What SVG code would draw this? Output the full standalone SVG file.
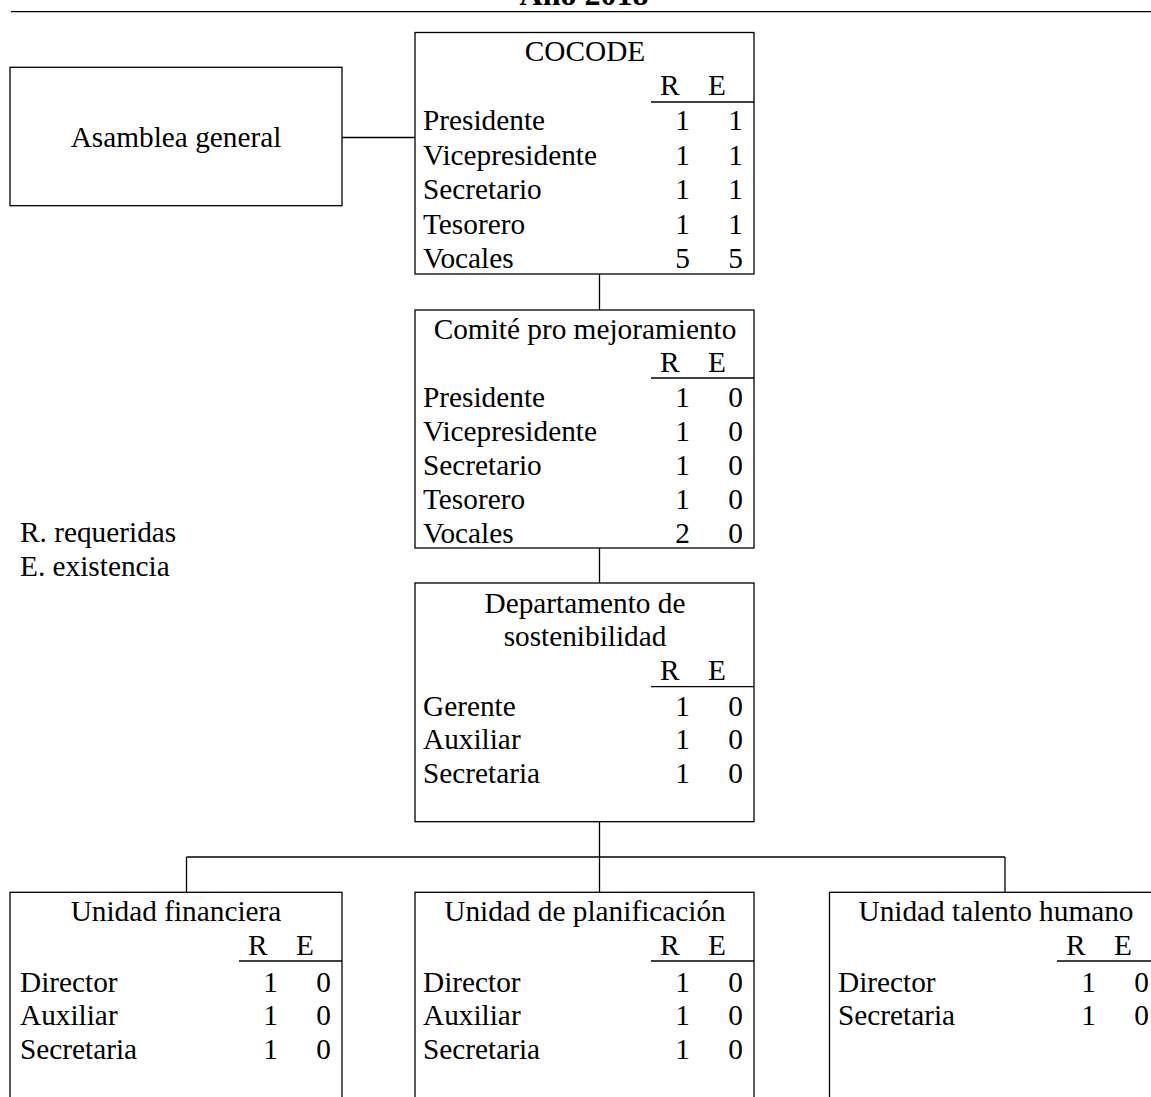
<svg xmlns="http://www.w3.org/2000/svg" width="1151" height="1097" viewBox="0 0 1151 1097">
<style>
.box{fill:none;stroke:#000;stroke-width:1.3}
.ln{fill:none;stroke:#000;stroke-width:1.3}
.t{font-family:"Liberation Serif","Times New Roman",serif;font-size:29.3px;fill:#000}
.c{text-anchor:middle}
.n{text-anchor:end}
.ttl{font-family:"Liberation Serif","Times New Roman",serif;font-size:32px;font-weight:bold;fill:#000;text-anchor:middle}
</style>
<rect x="0" y="0" width="1151" height="1097" fill="#fff"/>
<g id="title">
<text class="ttl" x="584" y="4.5">Año 2018</text>
<line class="ln" x1="11" y1="11.7" x2="1151" y2="11.7"/>
</g>
<g id="connectors">
<line class="ln" x1="342" y1="137.5" x2="415" y2="137.5"/>
<line class="ln" x1="599.5" y1="274" x2="599.5" y2="310"/>
<line class="ln" x1="599.5" y1="548" x2="599.5" y2="583"/>
<line class="ln" x1="599.5" y1="822" x2="599.5" y2="892"/>
<line class="ln" x1="186.5" y1="857" x2="1005" y2="857"/>
<line class="ln" x1="186.5" y1="857" x2="186.5" y2="892"/>
<line class="ln" x1="1005" y1="857" x2="1005" y2="892"/>
</g>
<g id="asamblea">
<rect class="box" x="10" y="67.3" width="332" height="138.4"/>
<text class="t c" x="176" y="147">Asamblea general</text>
</g>
<g id="cocode">
<rect class="box" x="415" y="32.5" width="339" height="241.5"/>
<text class="t c" x="585" y="61">COCODE</text>
<text class="t" x="660" y="95">R</text><text class="t" x="708" y="95">E</text>
<line class="ln" x1="651" y1="102" x2="754" y2="102"/>
<text class="t" x="423" y="130">Presidente</text><text class="t n" x="690" y="130">1</text><text class="t n" x="743" y="130">1</text>
<text class="t" x="423" y="164.5">Vicepresidente</text><text class="t n" x="690" y="164.5">1</text><text class="t n" x="743" y="164.5">1</text>
<text class="t" x="423" y="199">Secretario</text><text class="t n" x="690" y="199">1</text><text class="t n" x="743" y="199">1</text>
<text class="t" x="423" y="233.5">Tesorero</text><text class="t n" x="690" y="233.5">1</text><text class="t n" x="743" y="233.5">1</text>
<text class="t" x="423" y="268">Vocales</text><text class="t n" x="690" y="268">5</text><text class="t n" x="743" y="268">5</text>
</g>
<g id="comite">
<rect class="box" x="415" y="310" width="339" height="238"/>
<text class="t c" x="585" y="338.5">Comité pro mejoramiento</text>
<text class="t" x="660" y="372">R</text><text class="t" x="708" y="372">E</text>
<line class="ln" x1="651" y1="378" x2="754" y2="378"/>
<text class="t" x="423" y="407">Presidente</text><text class="t n" x="690" y="407">1</text><text class="t n" x="743" y="407">0</text>
<text class="t" x="423" y="441">Vicepresidente</text><text class="t n" x="690" y="441">1</text><text class="t n" x="743" y="441">0</text>
<text class="t" x="423" y="475">Secretario</text><text class="t n" x="690" y="475">1</text><text class="t n" x="743" y="475">0</text>
<text class="t" x="423" y="509">Tesorero</text><text class="t n" x="690" y="509">1</text><text class="t n" x="743" y="509">0</text>
<text class="t" x="423" y="543">Vocales</text><text class="t n" x="690" y="543">2</text><text class="t n" x="743" y="543">0</text>
</g>
<g id="legend">
<text class="t" x="20" y="542">R. requeridas</text>
<text class="t" x="20" y="576">E. existencia</text>
</g>
<g id="departamento">
<rect class="box" x="415" y="583" width="339" height="238.7"/>
<text class="t c" x="585" y="613">Departamento de</text>
<text class="t c" x="585" y="646">sostenibilidad</text>
<text class="t" x="660" y="679.5">R</text><text class="t" x="708" y="679.5">E</text>
<line class="ln" x1="651" y1="686.7" x2="754" y2="686.7"/>
<text class="t" x="423" y="715.5">Gerente</text><text class="t n" x="690" y="715.5">1</text><text class="t n" x="743" y="715.5">0</text>
<text class="t" x="423" y="749">Auxiliar</text><text class="t n" x="690" y="749">1</text><text class="t n" x="743" y="749">0</text>
<text class="t" x="423" y="782.5">Secretaria</text><text class="t n" x="690" y="782.5">1</text><text class="t n" x="743" y="782.5">0</text>
</g>
<g id="unidad-financiera">
<rect class="box" x="10" y="892.3" width="332" height="220"/>
<text class="t c" x="176" y="921">Unidad financiera</text>
<text class="t" x="248" y="955">R</text><text class="t" x="296" y="955">E</text>
<line class="ln" x1="239" y1="961" x2="342" y2="961"/>
<text class="t" x="20" y="991.5">Director</text><text class="t n" x="278" y="991.5">1</text><text class="t n" x="331" y="991.5">0</text>
<text class="t" x="20" y="1025">Auxiliar</text><text class="t n" x="278" y="1025">1</text><text class="t n" x="331" y="1025">0</text>
<text class="t" x="20" y="1058.5">Secretaria</text><text class="t n" x="278" y="1058.5">1</text><text class="t n" x="331" y="1058.5">0</text>
</g>
<g id="unidad-planificacion">
<rect class="box" x="415" y="892.3" width="339" height="220"/>
<text class="t c" x="585" y="921">Unidad de planificación</text>
<text class="t" x="660" y="955">R</text><text class="t" x="708" y="955">E</text>
<line class="ln" x1="651" y1="961" x2="754" y2="961"/>
<text class="t" x="423" y="991.5">Director</text><text class="t n" x="690" y="991.5">1</text><text class="t n" x="743" y="991.5">0</text>
<text class="t" x="423" y="1025">Auxiliar</text><text class="t n" x="690" y="1025">1</text><text class="t n" x="743" y="1025">0</text>
<text class="t" x="423" y="1058.5">Secretaria</text><text class="t n" x="690" y="1058.5">1</text><text class="t n" x="743" y="1058.5">0</text>
</g>
<g id="unidad-talento">
<rect class="box" x="829.5" y="892.3" width="331" height="220"/>
<text class="t c" x="996" y="921">Unidad talento humano</text>
<text class="t" x="1066" y="955">R</text><text class="t" x="1114" y="955">E</text>
<line class="ln" x1="1057" y1="961" x2="1160" y2="961"/>
<text class="t" x="838" y="991.5">Director</text><text class="t n" x="1096" y="991.5">1</text><text class="t n" x="1149" y="991.5">0</text>
<text class="t" x="838" y="1025">Secretaria</text><text class="t n" x="1096" y="1025">1</text><text class="t n" x="1149" y="1025">0</text>
</g>
</svg>
